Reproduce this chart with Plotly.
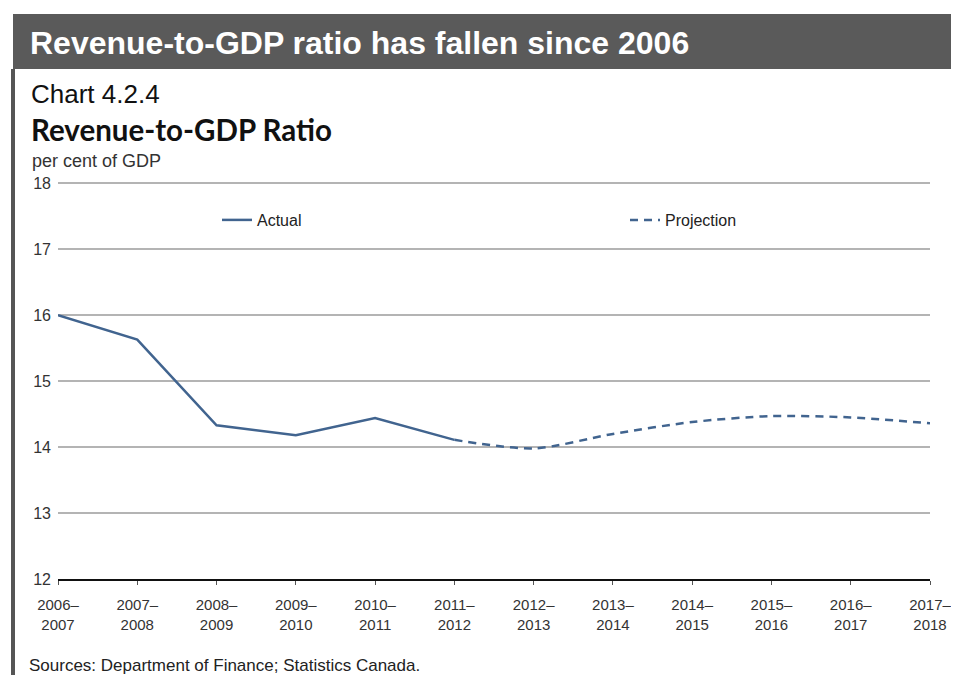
import plotly.graph_objects as go

categories = ["2006–<br>2007", "2007–<br>2008", "2008–<br>2009", "2009–<br>2010",
              "2010–<br>2011", "2011–<br>2012", "2012–<br>2013", "2013–<br>2014",
              "2014–<br>2015", "2015–<br>2016", "2016–<br>2017", "2017–<br>2018"]
actual = [16.0, 15.63, 14.33, 14.18, 14.44, 14.11, None, None, None, None, None, None]
projection = [None, None, None, None, None, 14.11, 13.98, 14.2, 14.38, 14.47, 14.45, 14.36]
y_ticks = [12, 13, 14, 15, 16, 17, 18]

W, H = 959, 675
L, R, T, B = 50, 37, 172, 104
PW, PH = W - L - R, H - T - B

def px(x):
    return (x - L) / PW

def py(y):
    return (H - B - y) / PH

LINE = "#41648f"
FONT = "Liberation Sans, Arial, sans-serif"

fig = go.Figure()
fig.add_trace(go.Scatter(x=categories, y=actual, mode="lines", name="Actual",
                         line=dict(color=LINE, width=2.5), legend="legend"))
fig.add_trace(go.Scatter(x=categories, y=projection, mode="lines", name="Projection",
                         line=dict(color=LINE, width=2.5, dash="8px,6px", shape="spline", smoothing=0.8),
                         legend="legend2"))

fig.update_layout(
    width=W, height=H,
    margin=dict(l=L, r=R, t=T, b=B),
    paper_bgcolor="white", plot_bgcolor="white",
    font=dict(family=FONT, size=16, color="#333333"),
    showlegend=True,
    legend=dict(x=px(209), y=py(212), xanchor="left", yanchor="middle",
                bgcolor="rgba(0,0,0,0)", font=dict(size=16, color="#222222"),
                itemwidth=30),
    legend2=dict(x=px(617), y=py(212), xanchor="left", yanchor="middle",
                 bgcolor="rgba(0,0,0,0)", font=dict(size=16, color="#222222"),
                 itemwidth=30),
    xaxis=dict(type="category", range=[0, len(categories) - 1],
               showgrid=False, zeroline=False,
               showline=True, linecolor="#111111", linewidth=2,
               ticks="outside", ticklen=4, tickcolor="#555555", tickwidth=1,
               tickfont=dict(size=15, color="#333333"), ticklabelstandoff=7),
    yaxis=dict(range=[12, 18.05], tickvals=y_ticks, showgrid=True,
               gridcolor="#b4b4b4", gridwidth=1.5, zeroline=False, showline=False,
               ticks="", tickfont=dict(size=16, color="#333333"), ticklabelstandoff=6),
    shapes=[
        dict(type="rect", xref="paper", yref="paper", x0=px(5), x1=px(959), y0=py(61), y1=py(6),
             fillcolor="#5a5a5a", line=dict(width=0), layer="above"),
        dict(type="line", xref="paper", yref="paper", x0=px(5), x1=px(5), y0=py(61), y1=py(675),
             line=dict(color="#555555", width=4)),
    ],
    annotations=[
        dict(text="<b>Revenue-to-GDP ratio has fallen since 2006</b>", xref="paper", yref="paper",
             x=px(20), y=py(35), xanchor="left", yanchor="middle", showarrow=False,
             font=dict(family=FONT, size=32, color="white")),
        dict(text="Chart 4.2.4", xref="paper", yref="paper",
             x=px(21), y=py(86), xanchor="left", yanchor="middle", showarrow=False,
             font=dict(family=FONT, size=26, color="#111111")),
        dict(text="<b>Revenue-to-GDP Ratio</b>", xref="paper", yref="paper",
             x=px(21), y=py(122), xanchor="left", yanchor="middle", showarrow=False,
             font=dict(family="Lato, Noto Sans, sans-serif", size=29.5, color="#111111")),
        dict(text="per cent of GDP", xref="paper", yref="paper",
             x=px(22), y=py(153), xanchor="left", yanchor="middle", showarrow=False,
             font=dict(family=FONT, size=18, color="#333333")),
        dict(text="Sources: Department of Finance; Statistics Canada.", xref="paper", yref="paper",
             x=px(19), y=py(657), xanchor="left", yanchor="middle", showarrow=False,
             font=dict(family=FONT, size=17, color="#222222")),
    ],
)

fig.write_html("out.html")
